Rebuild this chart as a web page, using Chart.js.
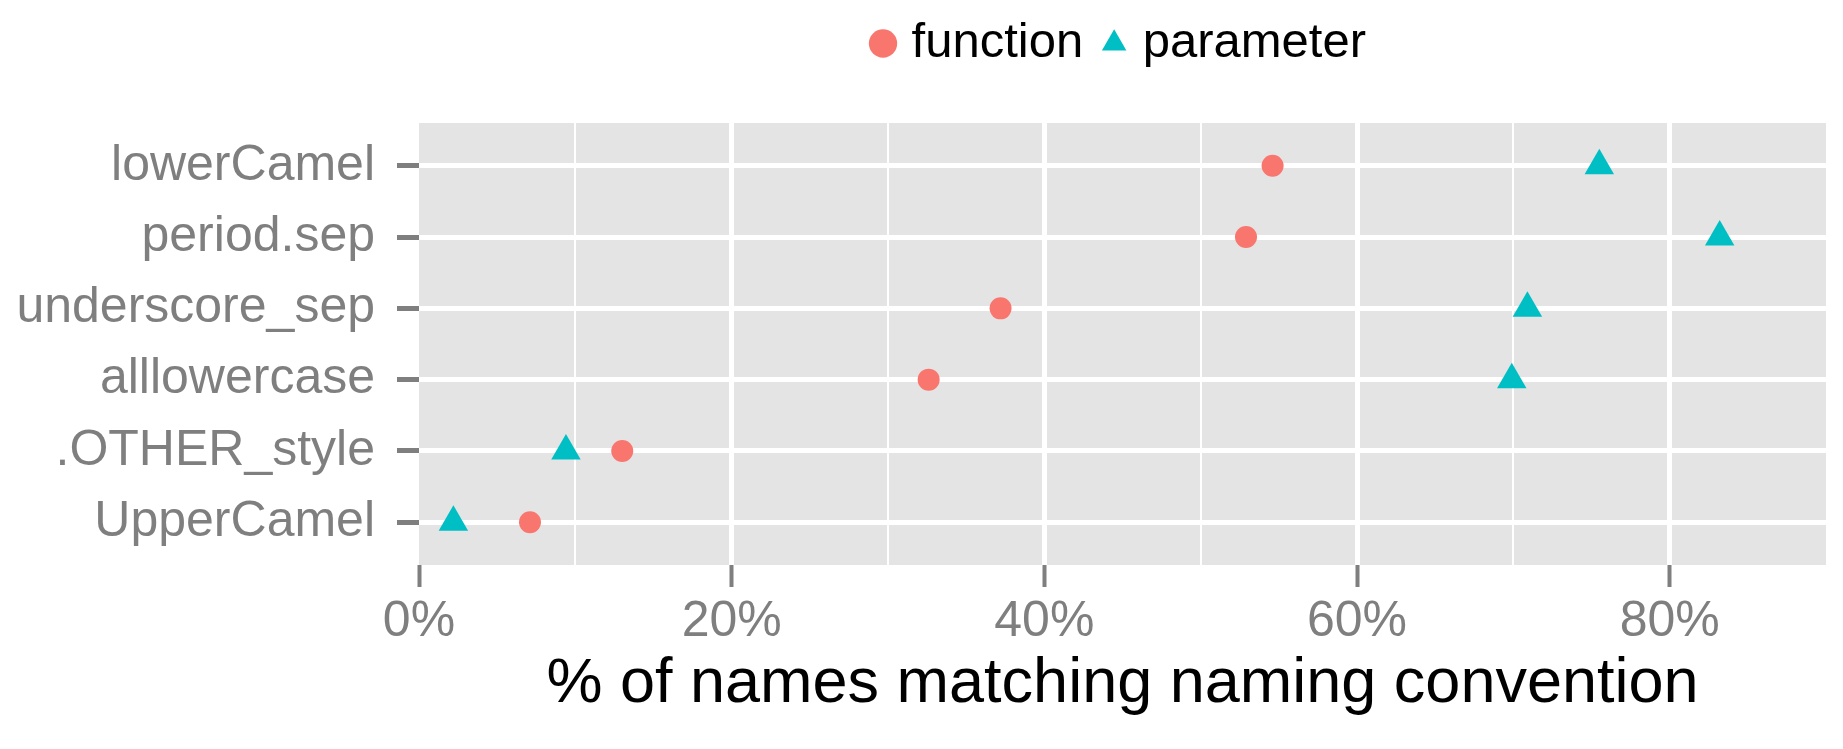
<!DOCTYPE html>
<html>
<head>
<meta charset="utf-8">
<title>Naming conventions</title>
<script src="https://cdn.jsdelivr.net/npm/chart.js@4"></script>
<style>
  body { margin: 0; background: #ffffff; }
  #wrap { width: 1843px; height: 749px; position: relative; }
</style>
</head>
<body>
<div id="wrap"><canvas id="chart"></canvas></div>
<script>
// Categories, top to bottom
const categories = ["lowerCamel", "period.sep", "underscore_sep", "alllowercase", ".OTHER_style", "UpperCamel"];

// % of names matching each convention
const functionPct = [54.6, 52.9, 37.2, 32.6, 13.0, 7.1];
const parameterPct = [75.5, 83.2, 70.9, 69.9, 9.4, 2.2];

// x axis ticks
const xMajorTicks = [0, 20, 40, 60, 80];
const xMinorTicks = [10, 30, 50, 70];

const grey = '#7f7f7f';

// grey panel behind the grid
const panelBg = {
    id: 'panelBg',
    beforeDraw(chart) {
        const a = chart.chartArea;
        const ctx = chart.ctx;
        ctx.save();
        ctx.fillStyle = '#e4e4e4';
        ctx.fillRect(a.left, a.top, a.right - a.left, a.bottom - a.top);
        ctx.restore();
    }
};

function toPoints(values) {
    return values.map((v, i) => ({ x: v, y: i }));
}

Chart.defaults.font.family = '"Liberation Sans", Arial, sans-serif';

new Chart(document.getElementById('chart'), {
    type: 'scatter',
    data: {
        datasets: [{
            label: 'function',
            data: toPoints(functionPct),
            pointStyle: 'circle',
            pointRadius: 11,
            pointHoverRadius: 11,
            backgroundColor: '#f8766d',
            borderColor: '#f8766d',
            borderWidth: 0
        }, {
            label: 'parameter',
            data: toPoints(parameterPct),
            pointStyle: 'triangle',
            pointRadius: 17,
            pointHoverRadius: 17,
            backgroundColor: '#00bfc4',
            borderColor: '#00bfc4',
            borderWidth: 0
        }]
    },
    options: {
        responsive: true,
        maintainAspectRatio: false,
        animation: false,
        layout: { padding: { left: 0, right: 17, top: -8, bottom: 0 } },
        plugins: {
            tooltip: { enabled: false },
            legend: {
                position: 'top',
                fullSize: false,
                labels: {
                    usePointStyle: true,
                    boxWidth: 8,
                    boxHeight: 20,
                    padding: 27,
                    color: '#000000',
                    font: { size: 49 }
                }
            },
            // spacer between legend and panel
            title: {
                display: true,
                text: '',
                weight: 500,
                font: { size: 10, lineHeight: 1 },
                padding: { top: 35, bottom: 0 }
            }
        },
        scales: {
            x: {
                type: 'linear',
                min: 0,
                max: 90,
                afterFit(scale) { scale.height = 184; },
                border: { display: false },
                grid: {
                    color: ctx => (ctx.tick.value === 0 || ctx.tick.value === 90) ? 'rgba(0,0,0,0)' : '#ffffff',
                    lineWidth: ctx => xMinorTicks.includes(ctx.tick.value) ? 2 : 5,
                    tickColor: ctx => xMajorTicks.includes(ctx.tick.value) ? grey : 'rgba(0,0,0,0)',
                    tickWidth: 4,
                    tickLength: 22
                },
                ticks: {
                    stepSize: 10,
                    autoSkip: false,
                    maxRotation: 0,
                    padding: 5,
                    color: grey,
                    font: { size: 50 },
                    callback: v => xMajorTicks.includes(v) ? v + '%' : ''
                },
                title: {
                    display: true,
                    text: '% of names matching naming convention',
                    color: '#000000',
                    font: { size: 63 },
                    padding: { top: 0, bottom: 27 }
                }
            },
            y: {
                type: 'linear',
                min: -0.6,
                max: 5.6,
                reverse: true,
                afterBuildTicks(scale) {
                    scale.ticks = categories.map((c, i) => ({ value: i }));
                },
                afterFit(scale) { scale.width = 419; },
                border: { display: false },
                grid: {
                    color: '#ffffff',
                    lineWidth: 5,
                    tickColor: grey,
                    tickWidth: 5,
                    tickLength: 22
                },
                ticks: {
                    autoSkip: false,
                    padding: 22,
                    color: grey,
                    font: { size: 50 },
                    callback: v => categories[v]
                }
            }
        }
    },
    plugins: [panelBg]
});
</script>
</body>
</html>
